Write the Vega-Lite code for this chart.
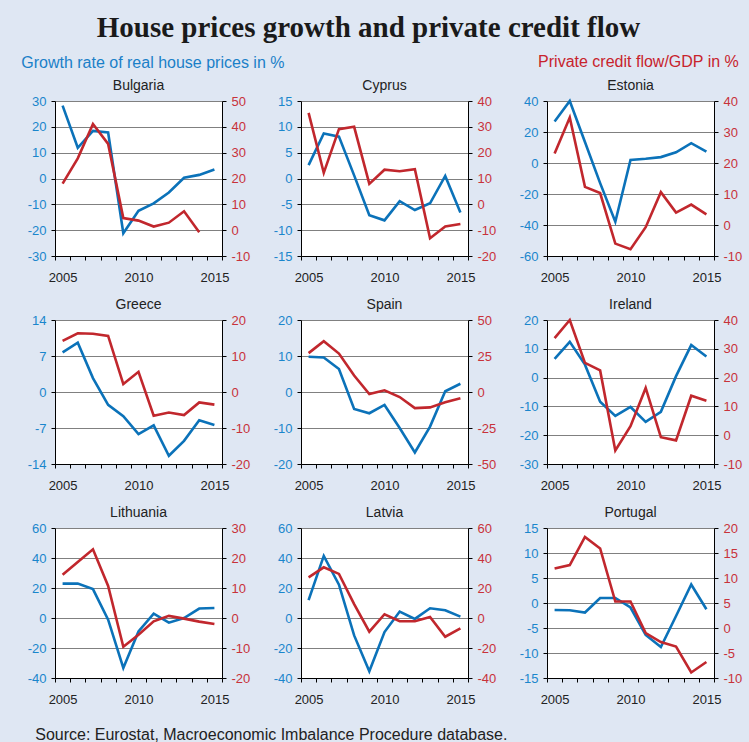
{
  "$schema": "https://vega.github.io/schema/vega-lite/v6.json",
  "background": "#dfe7f3",
  "padding": {"left": 21, "top": 14, "right": 7, "bottom": 0},
  "title": {"text": "House prices growth and private credit flow", "font": "Liberation Serif", "fontSize": 29, "fontWeight": "bold", "color": "#1a1a1a", "anchor": "middle", "frame": "bounds", "dx": -13, "offset": 11},
  "datasets": {
    "d": [
      {"country": "Bulgaria", "year": 2005, "hp": 28.2, "credit": 18.0},
      {"country": "Bulgaria", "year": 2006, "hp": 11.9, "credit": 27.8},
      {"country": "Bulgaria", "year": 2007, "hp": 18.4, "credit": 41.1},
      {"country": "Bulgaria", "year": 2008, "hp": 17.8, "credit": 33.4},
      {"country": "Bulgaria", "year": 2009, "hp": -21.2, "credit": 4.7},
      {"country": "Bulgaria", "year": 2010, "hp": -12.5, "credit": 3.7},
      {"country": "Bulgaria", "year": 2011, "hp": -9.6, "credit": 1.4},
      {"country": "Bulgaria", "year": 2012, "hp": -5.4, "credit": 2.9},
      {"country": "Bulgaria", "year": 2013, "hp": 0.3, "credit": 7.3},
      {"country": "Bulgaria", "year": 2014, "hp": 1.4, "credit": -0.8},
      {"country": "Bulgaria", "year": 2015, "hp": 3.5, "credit": null},
      {"country": "Cyprus", "year": 2005, "hp": 2.6, "credit": 35.4},
      {"country": "Cyprus", "year": 2006, "hp": 8.7, "credit": 12.2},
      {"country": "Cyprus", "year": 2007, "hp": 8.1, "credit": 29.1},
      {"country": "Cyprus", "year": 2008, "hp": 0.6, "credit": 30.0},
      {"country": "Cyprus", "year": 2009, "hp": -7.1, "credit": 7.9},
      {"country": "Cyprus", "year": 2010, "hp": -8.1, "credit": 13.4},
      {"country": "Cyprus", "year": 2011, "hp": -4.4, "credit": 12.8},
      {"country": "Cyprus", "year": 2012, "hp": -6.1, "credit": 13.6},
      {"country": "Cyprus", "year": 2013, "hp": -4.8, "credit": -13.1},
      {"country": "Cyprus", "year": 2014, "hp": 0.5, "credit": -8.6},
      {"country": "Cyprus", "year": 2015, "hp": -6.6, "credit": -7.6},
      {"country": "Estonia", "year": 2005, "hp": 26.8, "credit": 23.1},
      {"country": "Estonia", "year": 2006, "hp": 40.0, "credit": 34.7},
      {"country": "Estonia", "year": 2007, "hp": 13.5, "credit": 12.3},
      {"country": "Estonia", "year": 2008, "hp": -13.0, "credit": 10.3},
      {"country": "Estonia", "year": 2009, "hp": -37.9, "credit": -6.0},
      {"country": "Estonia", "year": 2010, "hp": 2.0, "credit": -7.8},
      {"country": "Estonia", "year": 2011, "hp": 2.7, "credit": -0.7},
      {"country": "Estonia", "year": 2012, "hp": 3.8, "credit": 10.6},
      {"country": "Estonia", "year": 2013, "hp": 6.9, "credit": 4.0},
      {"country": "Estonia", "year": 2014, "hp": 12.8, "credit": 6.6},
      {"country": "Estonia", "year": 2015, "hp": 7.3, "credit": 3.4},
      {"country": "Greece", "year": 2005, "hp": 7.7, "credit": 14.2},
      {"country": "Greece", "year": 2006, "hp": 9.6, "credit": 16.3},
      {"country": "Greece", "year": 2007, "hp": 2.7, "credit": 16.2},
      {"country": "Greece", "year": 2008, "hp": -2.5, "credit": 15.6},
      {"country": "Greece", "year": 2009, "hp": -4.7, "credit": 2.2},
      {"country": "Greece", "year": 2010, "hp": -8.2, "credit": 5.6},
      {"country": "Greece", "year": 2011, "hp": -6.5, "credit": -6.6},
      {"country": "Greece", "year": 2012, "hp": -12.4, "credit": -5.7},
      {"country": "Greece", "year": 2013, "hp": -9.5, "credit": -6.4},
      {"country": "Greece", "year": 2014, "hp": -5.5, "credit": -2.9},
      {"country": "Greece", "year": 2015, "hp": -6.4, "credit": -3.5},
      {"country": "Spain", "year": 2005, "hp": 9.8, "credit": 27.0},
      {"country": "Spain", "year": 2006, "hp": 9.6, "credit": 35.3},
      {"country": "Spain", "year": 2007, "hp": 6.4, "credit": 26.7},
      {"country": "Spain", "year": 2008, "hp": -4.7, "credit": 11.4},
      {"country": "Spain", "year": 2009, "hp": -5.9, "credit": -1.4},
      {"country": "Spain", "year": 2010, "hp": -3.6, "credit": 1.2},
      {"country": "Spain", "year": 2011, "hp": -10.0, "credit": -3.5},
      {"country": "Spain", "year": 2012, "hp": -16.8, "credit": -11.2},
      {"country": "Spain", "year": 2013, "hp": -9.6, "credit": -10.7},
      {"country": "Spain", "year": 2014, "hp": 0.2, "credit": -7.2},
      {"country": "Spain", "year": 2015, "hp": 2.3, "credit": -4.4},
      {"country": "Ireland", "year": 2005, "hp": 6.5, "credit": 33.7},
      {"country": "Ireland", "year": 2006, "hp": 12.4, "credit": 40.0},
      {"country": "Ireland", "year": 2007, "hp": 4.5, "credit": 25.1},
      {"country": "Ireland", "year": 2008, "hp": -8.4, "credit": 22.5},
      {"country": "Ireland", "year": 2009, "hp": -13.3, "credit": -5.3},
      {"country": "Ireland", "year": 2010, "hp": -10.2, "credit": 3.1},
      {"country": "Ireland", "year": 2011, "hp": -15.4, "credit": 16.4},
      {"country": "Ireland", "year": 2012, "hp": -11.9, "credit": -0.7},
      {"country": "Ireland", "year": 2013, "hp": 0.5, "credit": -1.8},
      {"country": "Ireland", "year": 2014, "hp": 11.3, "credit": 13.7},
      {"country": "Ireland", "year": 2015, "hp": 7.3, "credit": 12.0},
      {"country": "Lithuania", "year": 2005, "hp": 22.9, "credit": 14.4},
      {"country": "Lithuania", "year": 2006, "hp": 22.9, "credit": 18.7},
      {"country": "Lithuania", "year": 2007, "hp": 19.3, "credit": 22.9},
      {"country": "Lithuania", "year": 2008, "hp": -1.1, "credit": 10.7},
      {"country": "Lithuania", "year": 2009, "hp": -33.3, "credit": -9.6},
      {"country": "Lithuania", "year": 2010, "hp": -9.0, "credit": -5.6},
      {"country": "Lithuania", "year": 2011, "hp": 2.9, "credit": -1.1},
      {"country": "Lithuania", "year": 2012, "hp": -3.1, "credit": 0.7},
      {"country": "Lithuania", "year": 2013, "hp": 0.0, "credit": -0.2},
      {"country": "Lithuania", "year": 2014, "hp": 6.3, "credit": -1.2},
      {"country": "Lithuania", "year": 2015, "hp": 6.7, "credit": -2.0},
      {"country": "Latvia", "year": 2005, "hp": 11.9, "credit": 27.1},
      {"country": "Latvia", "year": 2006, "hp": 41.4, "credit": 33.8},
      {"country": "Latvia", "year": 2007, "hp": 22.2, "credit": 29.4},
      {"country": "Latvia", "year": 2008, "hp": -11.6, "credit": 9.2},
      {"country": "Latvia", "year": 2009, "hp": -35.5, "credit": -9.1},
      {"country": "Latvia", "year": 2010, "hp": -9.4, "credit": 2.5},
      {"country": "Latvia", "year": 2011, "hp": 4.3, "credit": -2.2},
      {"country": "Latvia", "year": 2012, "hp": -0.6, "credit": -2.2},
      {"country": "Latvia", "year": 2013, "hp": 6.5, "credit": 0.7},
      {"country": "Latvia", "year": 2014, "hp": 5.2, "credit": -12.5},
      {"country": "Latvia", "year": 2015, "hp": 0.9, "credit": -6.9},
      {"country": "Portugal", "year": 2005, "hp": -1.4, "credit": 11.9},
      {"country": "Portugal", "year": 2006, "hp": -1.45, "credit": 12.6},
      {"country": "Portugal", "year": 2007, "hp": -1.9, "credit": 18.2},
      {"country": "Portugal", "year": 2008, "hp": 1.0, "credit": 15.9},
      {"country": "Portugal", "year": 2009, "hp": 1.0, "credit": 5.3},
      {"country": "Portugal", "year": 2010, "hp": -0.9, "credit": 5.3},
      {"country": "Portugal", "year": 2011, "hp": -6.4, "credit": -1.0},
      {"country": "Portugal", "year": 2012, "hp": -8.8, "credit": -2.8},
      {"country": "Portugal", "year": 2013, "hp": -2.6, "credit": -3.7},
      {"country": "Portugal", "year": 2014, "hp": 3.7, "credit": -8.9},
      {"country": "Portugal", "year": 2015, "hp": -1.25, "credit": -6.8}
    ]
  },
  "data": {"name": "d"},
  "vconcat": [
    {
      "title": {"text": "Private credit flow/GDP in %", "anchor": "end", "frame": "bounds", "dx": -3, "dy": 15, "offset": 0, "color": "#c8232c", "fontSize": 16, "font": "Liberation Sans"},
      "vconcat": [
        {
          "title": {"text": "Growth rate of real house prices in %", "anchor": "start", "frame": "bounds", "dx": -6, "offset": 8, "color": "#1a80c8", "fontSize": 16, "font": "Liberation Sans"},
          "vconcat": [
            {
              "title": {"text": "Source: Eurostat, Macroeconomic Imbalance Procedure database.", "orient": "bottom", "anchor": "start", "frame": "bounds", "dx": 8, "offset": 21, "color": "#222222", "fontSize": 16, "font": "Liberation Sans"},
              "columns": 3,
              "spacing": {"row": 64, "column": 79},
              "bounds": "flush",
              "align": "each",
              "concat": [
                {
                  "title": "Bulgaria", "width": 167, "height": 155,
                  "transform": [{"filter": "datum.country === 'Bulgaria'"}],
                  "encoding": {"x": {"field": "year", "type": "quantitative", "scale": {"domain": [2004.5, 2015.5], "nice": false, "zero": false}, "axis": {"values": [2004.5, 2005, 2005.5, 2006, 2006.5, 2007, 2007.5, 2008, 2008.5, 2009, 2009.5, 2010, 2010.5, 2011, 2011.5, 2012, 2012.5, 2013, 2013.5, 2014, 2014.5, 2015, 2015.5], "labelExpr": "(datum.value == 2005 || datum.value == 2010 || datum.value == 2015) ? '' + datum.value : ''", "tickOpacity": {"condition": {"test": "datum.value % 1 === 0", "value": 0}, "value": 1}}}},
                  "layer": [
                    {"mark": {"type": "line", "color": "#0b72b9", "strokeWidth": 2.6}, "encoding": {"y": {"field": "hp", "type": "quantitative", "scale": {"domain": [-30, 30], "nice": false, "zero": false}, "axis": {"orient": "left", "values": [-30, -20, -10, 0, 10, 20, 30], "grid": true, "labelColor": "#1a86cc"}}}},
                    {"mark": {"type": "line", "color": "#c1272d", "strokeWidth": 2.6}, "encoding": {"y": {"field": "credit", "type": "quantitative", "scale": {"domain": [-10, 50], "nice": false, "zero": false}, "axis": {"orient": "right", "values": [-10, 0, 10, 20, 30, 40, 50], "grid": false, "labelColor": "#c8323a"}}}}
                  ],
                  "resolve": {"scale": {"y": "independent"}}
                },
                {
                  "title": "Cyprus", "width": 167, "height": 155,
                  "transform": [{"filter": "datum.country === 'Cyprus'"}],
                  "encoding": {"x": {"field": "year", "type": "quantitative", "scale": {"domain": [2004.5, 2015.5], "nice": false, "zero": false}, "axis": {"values": [2004.5, 2005, 2005.5, 2006, 2006.5, 2007, 2007.5, 2008, 2008.5, 2009, 2009.5, 2010, 2010.5, 2011, 2011.5, 2012, 2012.5, 2013, 2013.5, 2014, 2014.5, 2015, 2015.5], "labelExpr": "(datum.value == 2005 || datum.value == 2010 || datum.value == 2015) ? '' + datum.value : ''", "tickOpacity": {"condition": {"test": "datum.value % 1 === 0", "value": 0}, "value": 1}}}},
                  "layer": [
                    {"mark": {"type": "line", "color": "#0b72b9", "strokeWidth": 2.6}, "encoding": {"y": {"field": "hp", "type": "quantitative", "scale": {"domain": [-15, 15], "nice": false, "zero": false}, "axis": {"orient": "left", "values": [-15, -10, -5, 0, 5, 10, 15], "grid": true, "labelColor": "#1a86cc"}}}},
                    {"mark": {"type": "line", "color": "#c1272d", "strokeWidth": 2.6}, "encoding": {"y": {"field": "credit", "type": "quantitative", "scale": {"domain": [-20, 40], "nice": false, "zero": false}, "axis": {"orient": "right", "values": [-20, -10, 0, 10, 20, 30, 40], "grid": false, "labelColor": "#c8323a"}}}}
                  ],
                  "resolve": {"scale": {"y": "independent"}}
                },
                {
                  "title": "Estonia", "width": 167, "height": 155,
                  "transform": [{"filter": "datum.country === 'Estonia'"}],
                  "encoding": {"x": {"field": "year", "type": "quantitative", "scale": {"domain": [2004.5, 2015.5], "nice": false, "zero": false}, "axis": {"values": [2004.5, 2005, 2005.5, 2006, 2006.5, 2007, 2007.5, 2008, 2008.5, 2009, 2009.5, 2010, 2010.5, 2011, 2011.5, 2012, 2012.5, 2013, 2013.5, 2014, 2014.5, 2015, 2015.5], "labelExpr": "(datum.value == 2005 || datum.value == 2010 || datum.value == 2015) ? '' + datum.value : ''", "tickOpacity": {"condition": {"test": "datum.value % 1 === 0", "value": 0}, "value": 1}}}},
                  "layer": [
                    {"mark": {"type": "line", "color": "#0b72b9", "strokeWidth": 2.6}, "encoding": {"y": {"field": "hp", "type": "quantitative", "scale": {"domain": [-60, 40], "nice": false, "zero": false}, "axis": {"orient": "left", "values": [-60, -40, -20, 0, 20, 40], "grid": true, "labelColor": "#1a86cc"}}}},
                    {"mark": {"type": "line", "color": "#c1272d", "strokeWidth": 2.6}, "encoding": {"y": {"field": "credit", "type": "quantitative", "scale": {"domain": [-10, 40], "nice": false, "zero": false}, "axis": {"orient": "right", "values": [-10, 0, 10, 20, 30, 40], "grid": false, "labelColor": "#c8323a"}}}}
                  ],
                  "resolve": {"scale": {"y": "independent"}}
                },
                {
                  "title": "Greece", "width": 167, "height": 144,
                  "transform": [{"filter": "datum.country === 'Greece'"}],
                  "encoding": {"x": {"field": "year", "type": "quantitative", "scale": {"domain": [2004.5, 2015.5], "nice": false, "zero": false}, "axis": {"values": [2004.5, 2005, 2005.5, 2006, 2006.5, 2007, 2007.5, 2008, 2008.5, 2009, 2009.5, 2010, 2010.5, 2011, 2011.5, 2012, 2012.5, 2013, 2013.5, 2014, 2014.5, 2015, 2015.5], "labelExpr": "(datum.value == 2005 || datum.value == 2010 || datum.value == 2015) ? '' + datum.value : ''", "tickOpacity": {"condition": {"test": "datum.value % 1 === 0", "value": 0}, "value": 1}}}},
                  "layer": [
                    {"mark": {"type": "line", "color": "#0b72b9", "strokeWidth": 2.6}, "encoding": {"y": {"field": "hp", "type": "quantitative", "scale": {"domain": [-14, 14], "nice": false, "zero": false}, "axis": {"orient": "left", "values": [-14, -7, 0, 7, 14], "grid": true, "labelColor": "#1a86cc"}}}},
                    {"mark": {"type": "line", "color": "#c1272d", "strokeWidth": 2.6}, "encoding": {"y": {"field": "credit", "type": "quantitative", "scale": {"domain": [-20, 20], "nice": false, "zero": false}, "axis": {"orient": "right", "values": [-20, -10, 0, 10, 20], "grid": false, "labelColor": "#c8323a"}}}}
                  ],
                  "resolve": {"scale": {"y": "independent"}}
                },
                {
                  "title": "Spain", "width": 167, "height": 144,
                  "transform": [{"filter": "datum.country === 'Spain'"}],
                  "encoding": {"x": {"field": "year", "type": "quantitative", "scale": {"domain": [2004.5, 2015.5], "nice": false, "zero": false}, "axis": {"values": [2004.5, 2005, 2005.5, 2006, 2006.5, 2007, 2007.5, 2008, 2008.5, 2009, 2009.5, 2010, 2010.5, 2011, 2011.5, 2012, 2012.5, 2013, 2013.5, 2014, 2014.5, 2015, 2015.5], "labelExpr": "(datum.value == 2005 || datum.value == 2010 || datum.value == 2015) ? '' + datum.value : ''", "tickOpacity": {"condition": {"test": "datum.value % 1 === 0", "value": 0}, "value": 1}}}},
                  "layer": [
                    {"mark": {"type": "line", "color": "#0b72b9", "strokeWidth": 2.6}, "encoding": {"y": {"field": "hp", "type": "quantitative", "scale": {"domain": [-20, 20], "nice": false, "zero": false}, "axis": {"orient": "left", "values": [-20, -10, 0, 10, 20], "grid": true, "labelColor": "#1a86cc"}}}},
                    {"mark": {"type": "line", "color": "#c1272d", "strokeWidth": 2.6}, "encoding": {"y": {"field": "credit", "type": "quantitative", "scale": {"domain": [-50, 50], "nice": false, "zero": false}, "axis": {"orient": "right", "values": [-50, -25, 0, 25, 50], "grid": false, "labelColor": "#c8323a"}}}}
                  ],
                  "resolve": {"scale": {"y": "independent"}}
                },
                {
                  "title": "Ireland", "width": 167, "height": 144,
                  "transform": [{"filter": "datum.country === 'Ireland'"}],
                  "encoding": {"x": {"field": "year", "type": "quantitative", "scale": {"domain": [2004.5, 2015.5], "nice": false, "zero": false}, "axis": {"values": [2004.5, 2005, 2005.5, 2006, 2006.5, 2007, 2007.5, 2008, 2008.5, 2009, 2009.5, 2010, 2010.5, 2011, 2011.5, 2012, 2012.5, 2013, 2013.5, 2014, 2014.5, 2015, 2015.5], "labelExpr": "(datum.value == 2005 || datum.value == 2010 || datum.value == 2015) ? '' + datum.value : ''", "tickOpacity": {"condition": {"test": "datum.value % 1 === 0", "value": 0}, "value": 1}}}},
                  "layer": [
                    {"mark": {"type": "line", "color": "#0b72b9", "strokeWidth": 2.6}, "encoding": {"y": {"field": "hp", "type": "quantitative", "scale": {"domain": [-30, 20], "nice": false, "zero": false}, "axis": {"orient": "left", "values": [-30, -20, -10, 0, 10, 20], "grid": true, "labelColor": "#1a86cc"}}}},
                    {"mark": {"type": "line", "color": "#c1272d", "strokeWidth": 2.6}, "encoding": {"y": {"field": "credit", "type": "quantitative", "scale": {"domain": [-10, 40], "nice": false, "zero": false}, "axis": {"orient": "right", "values": [-10, 0, 10, 20, 30, 40], "grid": false, "labelColor": "#c8323a"}}}}
                  ],
                  "resolve": {"scale": {"y": "independent"}}
                },
                {
                  "title": "Lithuania", "width": 167, "height": 150,
                  "transform": [{"filter": "datum.country === 'Lithuania'"}],
                  "encoding": {"x": {"field": "year", "type": "quantitative", "scale": {"domain": [2004.5, 2015.5], "nice": false, "zero": false}, "axis": {"values": [2004.5, 2005, 2005.5, 2006, 2006.5, 2007, 2007.5, 2008, 2008.5, 2009, 2009.5, 2010, 2010.5, 2011, 2011.5, 2012, 2012.5, 2013, 2013.5, 2014, 2014.5, 2015, 2015.5], "labelExpr": "(datum.value == 2005 || datum.value == 2010 || datum.value == 2015) ? '' + datum.value : ''", "tickOpacity": {"condition": {"test": "datum.value % 1 === 0", "value": 0}, "value": 1}}}},
                  "layer": [
                    {"mark": {"type": "line", "color": "#0b72b9", "strokeWidth": 2.6}, "encoding": {"y": {"field": "hp", "type": "quantitative", "scale": {"domain": [-40, 60], "nice": false, "zero": false}, "axis": {"orient": "left", "values": [-40, -20, 0, 20, 40, 60], "grid": true, "labelColor": "#1a86cc"}}}},
                    {"mark": {"type": "line", "color": "#c1272d", "strokeWidth": 2.6}, "encoding": {"y": {"field": "credit", "type": "quantitative", "scale": {"domain": [-20, 30], "nice": false, "zero": false}, "axis": {"orient": "right", "values": [-20, -10, 0, 10, 20, 30], "grid": false, "labelColor": "#c8323a"}}}}
                  ],
                  "resolve": {"scale": {"y": "independent"}}
                },
                {
                  "title": "Latvia", "width": 167, "height": 150,
                  "transform": [{"filter": "datum.country === 'Latvia'"}],
                  "encoding": {"x": {"field": "year", "type": "quantitative", "scale": {"domain": [2004.5, 2015.5], "nice": false, "zero": false}, "axis": {"values": [2004.5, 2005, 2005.5, 2006, 2006.5, 2007, 2007.5, 2008, 2008.5, 2009, 2009.5, 2010, 2010.5, 2011, 2011.5, 2012, 2012.5, 2013, 2013.5, 2014, 2014.5, 2015, 2015.5], "labelExpr": "(datum.value == 2005 || datum.value == 2010 || datum.value == 2015) ? '' + datum.value : ''", "tickOpacity": {"condition": {"test": "datum.value % 1 === 0", "value": 0}, "value": 1}}}},
                  "layer": [
                    {"mark": {"type": "line", "color": "#0b72b9", "strokeWidth": 2.6}, "encoding": {"y": {"field": "hp", "type": "quantitative", "scale": {"domain": [-40, 60], "nice": false, "zero": false}, "axis": {"orient": "left", "values": [-40, -20, 0, 20, 40, 60], "grid": true, "labelColor": "#1a86cc"}}}},
                    {"mark": {"type": "line", "color": "#c1272d", "strokeWidth": 2.6}, "encoding": {"y": {"field": "credit", "type": "quantitative", "scale": {"domain": [-40, 60], "nice": false, "zero": false}, "axis": {"orient": "right", "values": [-40, -20, 0, 20, 40, 60], "grid": false, "labelColor": "#c8323a"}}}}
                  ],
                  "resolve": {"scale": {"y": "independent"}}
                },
                {
                  "title": "Portugal", "width": 167, "height": 150,
                  "transform": [{"filter": "datum.country === 'Portugal'"}],
                  "encoding": {"x": {"field": "year", "type": "quantitative", "scale": {"domain": [2004.5, 2015.5], "nice": false, "zero": false}, "axis": {"values": [2004.5, 2005, 2005.5, 2006, 2006.5, 2007, 2007.5, 2008, 2008.5, 2009, 2009.5, 2010, 2010.5, 2011, 2011.5, 2012, 2012.5, 2013, 2013.5, 2014, 2014.5, 2015, 2015.5], "labelExpr": "(datum.value == 2005 || datum.value == 2010 || datum.value == 2015) ? '' + datum.value : ''", "tickOpacity": {"condition": {"test": "datum.value % 1 === 0", "value": 0}, "value": 1}}}},
                  "layer": [
                    {"mark": {"type": "line", "color": "#0b72b9", "strokeWidth": 2.6}, "encoding": {"y": {"field": "hp", "type": "quantitative", "scale": {"domain": [-15, 15], "nice": false, "zero": false}, "axis": {"orient": "left", "values": [-15, -10, -5, 0, 5, 10, 15], "grid": true, "labelColor": "#1a86cc"}}}},
                    {"mark": {"type": "line", "color": "#c1272d", "strokeWidth": 2.6}, "encoding": {"y": {"field": "credit", "type": "quantitative", "scale": {"domain": [-10, 20], "nice": false, "zero": false}, "axis": {"orient": "right", "values": [-10, -5, 0, 5, 10, 15, 20], "grid": false, "labelColor": "#c8323a"}}}}
                  ],
                  "resolve": {"scale": {"y": "independent"}}
                }
              ]
            }
          ]
        }
      ]
    }
  ],
  "config": {
    "locale": {"number": {"decimal": ".", "thousands": ",", "grouping": [3], "currency": ["", ""], "minus": "-"}},
    "view": {"stroke": null, "fill": "white"},
    "font": "Liberation Sans",
    "axis": {"title": null, "labelFont": "Liberation Sans", "labelFontSize": 13, "domainColor": "#000000", "domainWidth": 1, "tickColor": "#000000", "tickSize": 4, "tickWidth": 1, "labelPadding": 5, "gridColor": "#808080", "gridWidth": 1, "labelOverlap": false, "labelFlush": false, "labelBound": false},
    "axisX": {"grid": false, "labelColor": "#222222", "labelPadding": 11},
    "title": {"font": "Liberation Sans", "fontSize": 14, "fontWeight": "normal", "color": "#222222", "offset": 2}
  }
}
